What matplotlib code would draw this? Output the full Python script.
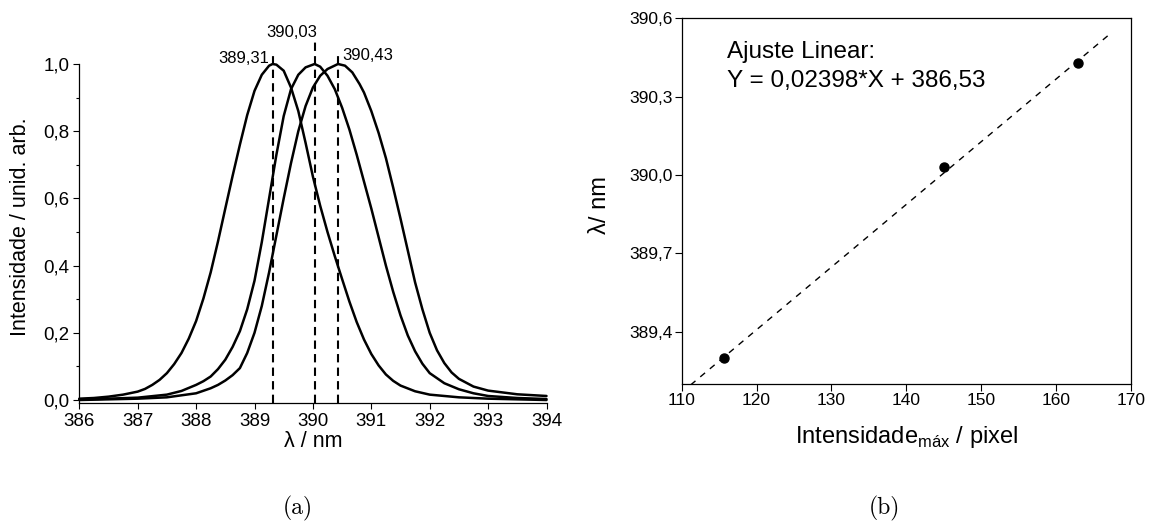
import matplotlib
matplotlib.use("Agg")
import matplotlib.pyplot as plt

plt.rcParams['font.family'] = ['Liberation Sans', 'DejaVu Sans']
plt.rcParams['mathtext.fontset'] = 'custom'
plt.rcParams['mathtext.rm'] = 'Liberation Sans'

# ---------------- data: panel (a) ----------------
wl_a = [386.0, 386.25, 386.5, 386.75, 387.0, 387.125, 387.25, 387.375,
        387.5, 387.625, 387.75, 387.875, 388.0, 388.125, 388.25, 388.375,
        388.5, 388.625, 388.75, 388.875, 389.0, 389.125, 389.25, 389.31,
        389.375, 389.5, 389.625, 389.75, 389.875, 390.0, 390.125, 390.25,
        390.375, 390.5, 390.625, 390.75, 390.875, 391.0, 391.125, 391.25,
        391.375, 391.5, 391.75, 392.0, 392.5, 393.0, 393.5, 394.0]
int_a = [0.004, 0.006, 0.010, 0.016, 0.025, 0.033, 0.045, 0.060,
         0.080, 0.107, 0.140, 0.183, 0.235, 0.302, 0.380, 0.472,
         0.570, 0.667, 0.760, 0.848, 0.920, 0.968, 0.995, 1.000,
         0.998, 0.980, 0.930, 0.860, 0.765, 0.665, 0.578, 0.500,
         0.428, 0.360, 0.293, 0.232, 0.180, 0.137, 0.103, 0.076,
         0.057, 0.043, 0.026, 0.016, 0.008, 0.004, 0.002, 0.000]

wl_b = [386.0, 386.5, 387.0, 387.5, 387.75, 388.0, 388.125, 388.25,
        388.375, 388.5, 388.625, 388.75, 388.875, 389.0, 389.125, 389.25,
        389.375, 389.5, 389.625, 389.75, 389.875, 390.03, 390.125, 390.25,
        390.375, 390.5, 390.625, 390.75, 390.875, 391.0, 391.125, 391.25,
        391.375, 391.5, 391.625, 391.75, 391.875, 392.0, 392.25, 392.5,
        392.75, 393.0, 393.5, 394.0]
int_b = [0.002, 0.004, 0.007, 0.016, 0.027, 0.045, 0.056, 0.070,
         0.092, 0.120, 0.158, 0.205, 0.270, 0.355, 0.470, 0.600,
         0.730, 0.845, 0.925, 0.968, 0.990, 1.000, 0.992, 0.965,
         0.925, 0.870, 0.805, 0.730, 0.650, 0.570, 0.485, 0.400,
         0.322, 0.252, 0.192, 0.145, 0.108, 0.080, 0.050, 0.032,
         0.020, 0.012, 0.006, 0.003]

wl_c = [386.0, 386.5, 387.0, 387.5, 388.0, 388.25, 388.375, 388.5,
        388.625, 388.75, 388.875, 389.0, 389.125, 389.25, 389.375, 389.5,
        389.625, 389.75, 389.875, 390.0, 390.125, 390.25, 390.43, 390.55,
        390.675, 390.8, 390.875, 391.0, 391.125, 391.25, 391.375, 391.5,
        391.625, 391.75, 391.875, 392.0, 392.125, 392.25, 392.375, 392.5,
        392.75, 393.0, 393.5, 394.0]
int_c = [0.000, 0.002, 0.004, 0.008, 0.020, 0.035, 0.045, 0.058,
         0.074, 0.095, 0.140, 0.200, 0.280, 0.380, 0.490, 0.600,
         0.705, 0.800, 0.875, 0.930, 0.965, 0.985, 1.000, 0.995,
         0.975, 0.940, 0.915, 0.860, 0.795, 0.720, 0.632, 0.540,
         0.445, 0.350, 0.270, 0.200, 0.148, 0.110, 0.082, 0.063,
         0.040, 0.028, 0.017, 0.012]

peak_pos = [389.31, 390.03, 390.43]
peak_labels = ['389,31', '390,03', '390,43']
peak_line_top = [1.027, 1.071, 1.033]

# ---------------- data: panel (b) ----------------
intens_max = [115.6, 145.1, 162.9]
lam_peak = [389.30, 390.03, 390.43]
fit_slope = 0.02398
fit_intercept = 386.53
fit_x = [111.2, 167.5]

W, H = 1157, 532
fig = plt.figure(figsize=(W / 100, H / 100), dpi=100)

def frac(l, t, r, b):
    return [l / W, 1 - b / H, (r - l) / W, (b - t) / H]

# ---------------- panel (a) ----------------
ax1 = fig.add_axes(frac(79.3, 64, 546.5, 402.7))
for wl, it in ((wl_a, int_a), (wl_b, int_b), (wl_c, int_c)):
    ax1.plot(wl, it, color='black', lw=1.8, clip_on=False,
             solid_joinstyle='round', solid_capstyle='round')
for p, top in zip(peak_pos, peak_line_top):
    ax1.plot([p, p], [-0.008, top], color='black', lw=1.5, dashes=(4, 2.5), clip_on=False)
ax1.text(389.25, 1.003, peak_labels[0], ha='right', va='baseline', fontsize=12)
ax1.text(390.08, 1.081, peak_labels[1], ha='right', va='baseline', fontsize=12)
ax1.text(390.50, 1.012, peak_labels[2], ha='left', va='baseline', fontsize=12)

ax1.set_xlim(386, 394)
ax1.set_ylim(-0.008, 1.0)
ax1.set_xticks([386, 387, 388, 389, 390, 391, 392, 393, 394])
ax1.set_yticks([0.0, 0.2, 0.4, 0.6, 0.8, 1.0])
ax1.set_yticks([0.1, 0.3, 0.5, 0.7, 0.9], minor=True)
ax1.set_yticklabels(['0,0', '0,2', '0,4', '0,6', '0,8', '1,0'])
ax1.spines['top'].set_visible(False)
ax1.spines['right'].set_visible(False)
for s in ('left', 'bottom'):
    ax1.spines[s].set_linewidth(0.9)
ax1.tick_params(which='major', direction='out', length=4.3, width=0.8, labelsize=13.5, pad=3)
ax1.tick_params(which='minor', direction='out', length=2.3, width=0.8)
ax1.set_xlabel('λ / nm', fontsize=15.5, labelpad=1)
ax1.set_ylabel('Intensidade / unid. arb.', fontsize=15.5)
ax1.yaxis.label.set_verticalalignment('center')
ax1.yaxis.set_label_coords(-0.126, 0.52)

# ---------------- panel (b) ----------------
ax2 = fig.add_axes(frac(681.7, 18.3, 1130.7, 384))
fit_y = [fit_slope * x + fit_intercept for x in fit_x]
ax2.plot(fit_x, fit_y, color='black', lw=1.0, dashes=(4.5, 4.5))
ax2.plot(intens_max, lam_peak, 'o', color='black', markersize=6.5)
ax2.text(116.05, 390.448, 'Ajuste Linear:', fontsize=17.5, va='baseline')
ax2.text(116.05, 390.337, 'Y = 0,02398*X + 386,53', fontsize=17.5, va='baseline')

ax2.set_xlim(110, 170)
ax2.set_ylim(389.2, 390.6)
ax2.set_xticks([110, 120, 130, 140, 150, 160, 170])
ax2.set_yticks([389.4, 389.7, 390.0, 390.3, 390.6])
ax2.set_yticklabels(['389,4', '389,7', '390,0', '390,3', '390,6'])
for s in ax2.spines.values():
    s.set_linewidth(0.9)
ax2.tick_params(direction='out', length=4.8, width=0.8, labelsize=12.5, pad=2)
ax2.set_xlabel('Intensidade$_{\\mathregular{máx}}$ / pixel', fontsize=17, labelpad=11)
ax2.set_ylabel('λ/ nm', fontsize=17)
ax2.yaxis.label.set_verticalalignment('center')
ax2.yaxis.set_label_coords((600 - 681.7) / 449, 0.49)

# ---------------- sub-captions ----------------
fig.text(298 / W, 1 - 508 / H, '(a)', family='cmr10', fontsize=17, ha='center', va='center')
fig.text(884 / W, 1 - 508 / H, '(b)', family='cmr10', fontsize=17, ha='center', va='center')

fig.savefig('out.png', dpi=100)
